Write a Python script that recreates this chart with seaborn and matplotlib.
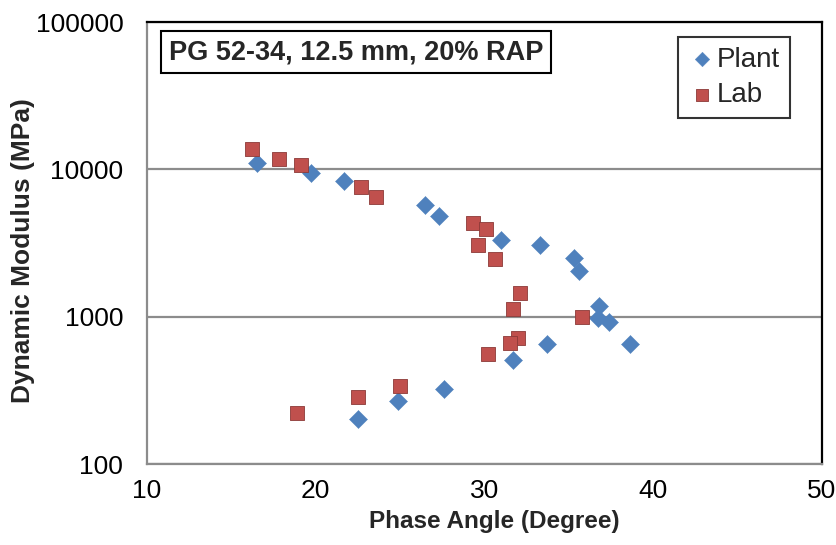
import matplotlib
matplotlib.use("Agg")
import matplotlib.pyplot as plt
import seaborn as sns
import pandas as pd
from matplotlib.ticker import FixedLocator, FixedFormatter, NullLocator

plant_phase = [16.5, 19.7, 21.7, 26.5, 27.3, 31.0, 33.3, 35.3, 35.6, 36.8, 36.7, 37.4, 38.6, 33.7, 31.7, 27.6, 24.9, 22.5]
plant_mod = [11000, 9500, 8300, 5700, 4800, 3300, 3070, 2500, 2030, 1175, 980, 915, 656, 656, 511, 324, 267, 203]
lab_phase = [16.2, 17.8, 19.1, 22.7, 23.6, 29.3, 30.1, 29.6, 30.6, 32.1, 31.7, 35.8, 32.0, 31.5, 30.2, 25.0, 22.5, 18.9]
lab_mod = [13700, 11700, 10700, 7600, 6450, 4300, 3930, 3070, 2470, 1450, 1130, 995, 716, 664, 561, 337, 285, 222]
series_names = ["Plant", "Lab"]
x_ticks = [10, 20, 30, 40, 50]
y_ticks = [100, 1000, 10000, 100000]
y_tick_labels = ["100", "1000", "10000", "100000"]
title_text = "PG 52-34, 12.5 mm, 20% RAP"

df = pd.concat([
    pd.DataFrame({"phase": plant_phase, "mod": plant_mod, "Series": series_names[0]}),
    pd.DataFrame({"phase": lab_phase, "mod": lab_mod, "Series": series_names[1]}),
], ignore_index=True)

sns.set_theme(style="white")
plt.rcParams["font.family"] = ["Liberation Sans", "DejaVu Sans"]

fig = plt.figure(figsize=(8.37, 5.45), dpi=100)
ax = fig.add_axes([0.1756, 0.1486, 0.8064, 0.811])

palette = {"Plant": "#4F81BD", "Lab": "#C0504D"}
markers = {"Plant": "D", "Lab": "s"}
sizes = {"Plant": 85, "Lab": 100}

for name in series_names:
    sub = df[df["Series"] == name]
    sns.scatterplot(data=sub, x="phase", y="mod", color=palette[name], marker=markers[name],
                    s=sizes[name], edgecolor="#4F81BD" if name == "Plant" else "#8c3a38",
                    linewidth=0.3 if name == "Plant" else 0.6, ax=ax, label=name, zorder=3)

ax.set_yscale("log")
ax.set_xlim(10, 50)
ax.set_ylim(100, 100000)
ax.xaxis.set_major_locator(FixedLocator(x_ticks))
ax.yaxis.set_major_locator(FixedLocator(y_ticks))
ax.yaxis.set_major_formatter(FixedFormatter(y_tick_labels))
ax.yaxis.set_minor_locator(NullLocator())
ax.tick_params(axis="both", which="major", labelsize=19, length=6, width=1.5,
               color="#8c8c8c", direction="out", labelcolor="black")
ax.tick_params(axis="y", pad=11)
ax.tick_params(axis="x", pad=5)

ax.yaxis.grid(True, color="#8c8c8c", linewidth=1.6)
ax.set_axisbelow(True)
for s in ["left", "bottom"]:
    ax.spines[s].set_color("#8c8c8c")
    ax.spines[s].set_linewidth(1.6)
for s in ["top", "right"]:
    ax.spines[s].set_color("black")
    ax.spines[s].set_linewidth(1.6)

ax.set_xlabel("Phase Angle (Degree)", fontsize=17.5, fontweight="bold")
ax.set_ylabel("Dynamic Modulus (MPa)", fontsize=19, fontweight="bold")
ax.xaxis.set_label_coords(0.515, -0.105)
ax.yaxis.set_label_coords(-0.166, 0.482)

ax.text(0.0326, 0.932, title_text, transform=ax.transAxes, fontsize=19.5, fontweight="bold",
        va="center", ha="left",
        bbox=dict(boxstyle="square,pad=0.3", facecolor="white", edgecolor="black", linewidth=1.5))

leg = ax.legend(loc="upper right", bbox_to_anchor=(0.9526, 0.966), fontsize=20, frameon=True,
                fancybox=False, edgecolor="black", handletextpad=0.05, handlelength=1.0,
                borderpad=0.35, labelspacing=0.35, markerscale=0.8, borderaxespad=0)
leg.get_frame().set_linewidth(1.5)

fig.savefig("out.png", dpi=100)
